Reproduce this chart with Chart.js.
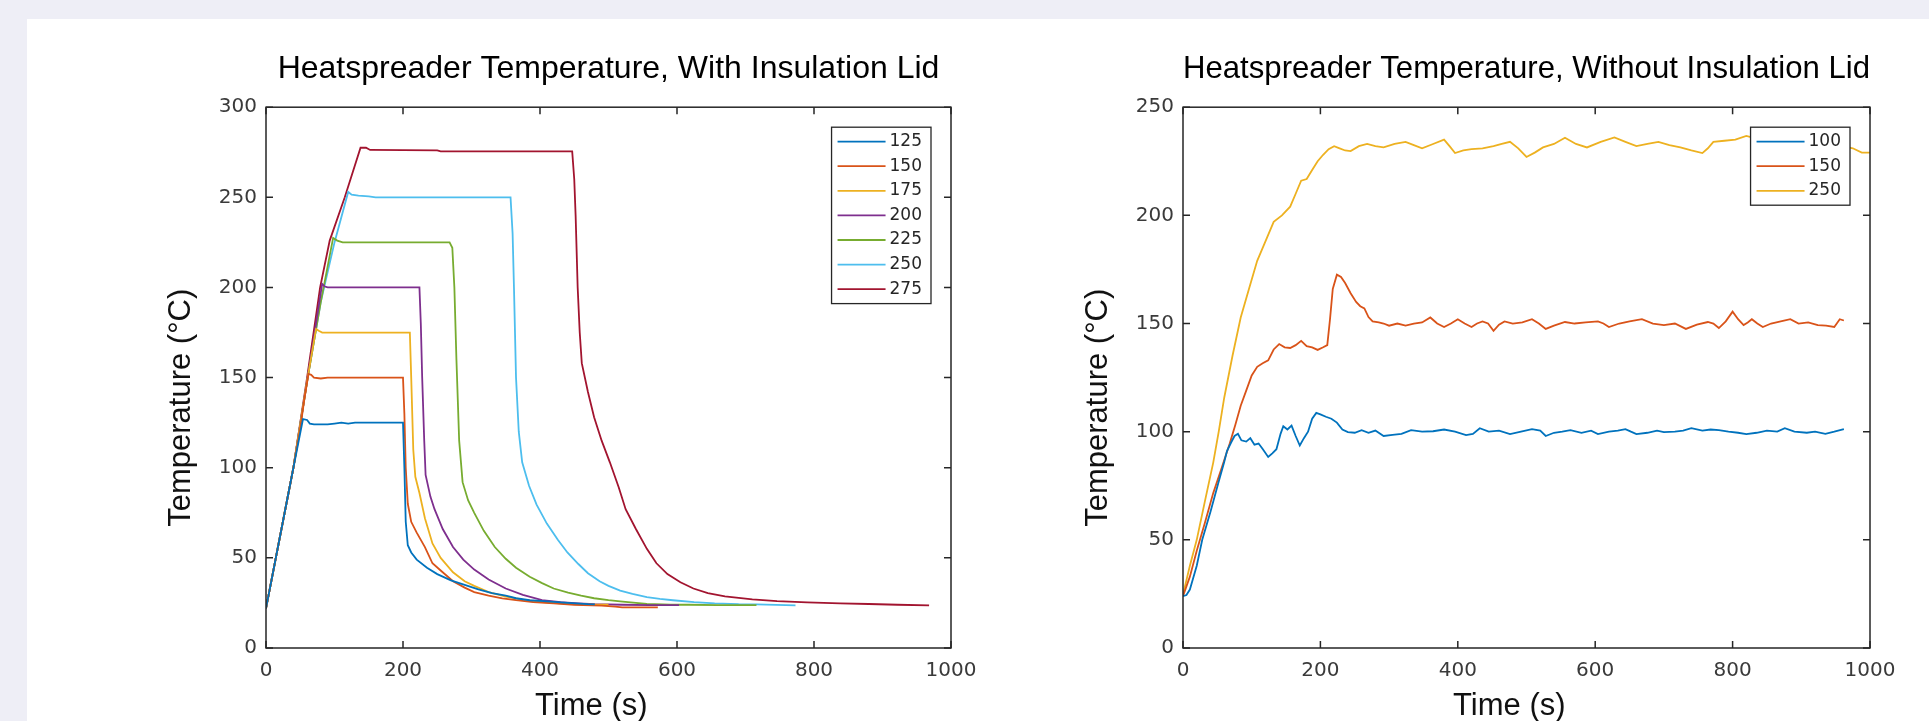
<!DOCTYPE html>
<html>
<head>
<meta charset="utf-8">
<title>Heatspreader Temperature</title>
<script src="https://cdn.jsdelivr.net/npm/chart.js@4.4.1/dist/chart.umd.min.js"></script>
<style>
    html, body { margin: 0; padding: 0; width: 1929px; height: 721px; overflow: hidden; background: #eeeef6; }
    #panel { position: absolute; left: 27px; top: 19px; right: 0; bottom: 0; background: #fff; }
    .plot { position: absolute; top: 19px; height: 720px; }
    #plotLid { left: 140px; width: 851px; }
    #plotNoLid { left: 1057px; width: 853px; }
</style>
</head>
<body>
<div id="panel"></div>
<div class="plot" id="plotLid"><canvas id="chartLid"></canvas></div>
<div class="plot" id="plotNoLid"><canvas id="chartNoLid"></canvas></div>
<script>
// --- data: [time (s), temperature (C)] ---
var lid125 = [[0,22],[20,61],[40,100],[54,127],[60,126.5],[64,124.5],[70,124],[90,124],[100,124.5],[110,125],[120,124.5],[130,125],[150,125],[200,125],
    [202,100],[204,70],[207,57],[212,53],[220,49],[235,44.5],[250,41],[270,37.5],[290,35],[310,32.5],[330,30.5],[350,29],[365,27.6],[385,26.5],[405,26],[440,25],[470,24.3],[480,24.2]];
var lid150 = [[0,22],[20,61],[40,100],[50,122],[56,138],[62,152],[66,151.5],[70,150],[80,149.5],[90,150],[110,150],[150,150],[200,150],
    [202,130],[204,100],[207,80],[212,70],[220,64],[232,56],[243,47],[255,43],[273,37],[290,33.5],[304,31],[325,29],[345,27.5],[365,26.5],[390,25.5],[420,24.8],[450,24],[490,23.5],[510,23],[520,22.5],[572,22.5]];
var lid175 = [[0,22],[20,61],[40,100],[60,148],[73,177],[77,176],[82,175],[100,175],[150,175],[210,175],
    [212,150],[215,110],[218,95],[224,86],[232,72],[243,58],[255,50],[273,42],[290,37],[304,34.5],[325,31],[350,28.5],[375,26.8],[403,25.4],[440,24.5],[470,24],[500,24]];
var lid200 = [[0,22],[20,61],[40,100],[60,148],[82,202],[86,200.5],[90,200],[120,200],[180,200],[224,200],
    [226,180],[228,150],[231,115],[233,96],[240,84],[246,77],[258,66],[273,56],[288,49],[304,43.5],[325,38],[350,33],[375,29.5],[403,26.5],[430,25.5],[456,24.8],[480,24.3],[520,24],[560,23.8],[603,23.8]];
var lid225 = [[0,22],[20,61],[40,100],[60,148],[80,192],[98,227.5],[104,226],[112,225],[150,225],[200,225],[268,225],
    [272,222],[275,200],[278,160],[282,115],[287,92],[295,82],[304,75],[318,65],[334,56],[350,49.5],[365,44.5],[385,39.5],[403,36],[420,33],[441,30.7],[460,29],[479,27.6],[500,26.5],[517,25.9],[540,25],[556,24.4],[590,24],[617,24],[660,23.8],[716,23.8]];
var lid250 = [[0,22],[20,61],[40,100],[60,148],[80,192],[100,225],[120,253],[125,251.5],[135,251],[150,250.5],[160,250],[200,250],[300,250],[357,250],
    [360,230],[362,200],[365,150],[369,120],[374,103],[384,90],[395,79.5],[410,69],[426,60],[440,53],[456,46.6],[470,41.5],[487,37],[500,34.5],[517,31.8],[535,30],[556,28.2],[575,27.2],[594,26.5],[625,25.5],[655,24.8],[690,24.3],[716,24.2],[773,23.7]];
var lid275 = [[0,22],[20,61],[40,100],[60,150],[79,200],[93,226],[115,250],[138,277.5],[146,277.5],[152,276.3],[200,276.2],[250,276],[255,275.5],[300,275.5],[400,275.5],[447,275.5],
    [450,260],[452,240],[455,200],[458,175],[461,158],[470,142],[479,128],[490,115],[502,103],[515,89],[525,77],[540,66],[556,55],[570,47],[586,41],[605,36.5],[624,33],[645,30.5],[670,28.6],[710,27],[746,26],[790,25.3],[838,24.8],[880,24.4],[922,24],[968,23.7]];

var noLid100 = [[0,24],[5,24.5],[10,27],[20,38],[28,50],[40,63],[52,77],[60,86],[64,91],[70,95],[75,98],[80,99],[85,96],[92,95.4],[98,97],[104,94],[110,94.5],[116,92],[124,88.3],[130,90],[136,91.9],[142,99],[146,102.5],[152,101],[158,102.8],[164,98],[170,93.6],[176,97],[182,100],[188,106],[194,108.7],[200,108],[208,106.9],[216,106],[224,104.2],[232,101],[240,99.8],
    [250,99.5],[260,100.7],[270,99.5],[280,100.5],[292,98],[305,98.5],[318,99],[332,100.7],[348,100],[364,100.2],[380,101],[396,100],[412,98.4],[422,99],[432,101.6],[445,100],[460,100.5],[476,98.9],[492,100],[508,101.2],[520,100.5],[528,98],[540,99.5],[552,100],[564,100.7],[580,99.5],[594,100.5],[604,98.9],[620,100],[633,100.5],[644,101.2],[652,100],[660,98.9],[676,99.5],[690,100.5],[700,99.8],
    [716,100],[728,100.5],[740,101.6],[756,100.5],[768,101],[780,100.7],[794,100],[808,99.5],[820,98.9],[835,99.5],[850,100.5],[865,100],[876,101.6],[890,100],[908,99.5],[920,100],[935,99],[948,100],[962,101.2]];
var noLid150 = [[0,24],[10,33],[20,45],[32,58],[44,71.6],[56,83],[68,94.5],[76,103],[84,112],[92,119],[100,126],[108,130],[116,131.6],[124,133],[132,138],[140,140.5],[148,139],[156,138.7],[164,140],[172,142],[180,139.5],[188,139],[196,137.8],[204,139],[210,140],[214,152],[218,166],[224,172.6],[230,171.5],[236,168.7],[244,164],[252,160],[258,158],[264,157],[270,153],[276,151],
    [285,150.5],[292,150],[300,149],[312,150],[324,149],[336,150],[348,150.5],[360,152.8],[370,150],[380,148.4],[390,150],[400,152],[410,150],[420,148.4],[428,150],[436,151],[444,150],[452,146.6],[460,149.5],[468,151],[480,150],[494,150.5],[508,152],[518,150],[528,147.5],[540,149],[556,150.7],[570,150],[586,150.5],[604,151],[612,150],[620,148.4],[635,150],[650,151],[668,152],[684,150],[700,149.3],[716,150],[732,147.5],[748,149.5],[764,150.7],[772,150],[780,147.9],[790,151],
    [800,155.5],[808,152],[816,149.3],[822,150.5],[828,152],[836,150],[844,148.4],[856,150],[870,151],[884,152],[896,150],[910,150.5],[924,149.3],[936,149],[948,148.4],[956,152],[962,151.4]];
var noLid250 = [[0,24.7],[10,38],[20,50],[32,68],[44,85.7],[52,100],[60,115.7],[72,135],[84,152.8],[96,166],[108,179],[120,188],[132,197],[144,200],[156,204],[164,210],[172,216],[180,216.8],[188,221],[196,225],[204,228],[212,230.6],[220,232],[228,231],[236,230],[244,229.7],[256,232],[268,233],[280,232],[292,231.4],[308,233],[324,234],[336,232.5],[348,231],[364,233],[380,235],[388,232],[396,228.8],[408,230],[420,230.6],[436,231],[452,232],[464,233],[476,234],[488,231],[500,227],[512,229],[524,231.4],
    [540,233],[556,235.9],[572,233],[588,231.4],[608,234],[628,236],[644,234],[660,232],[676,233],[692,234],[708,232.5],[724,231.4],[740,230],[756,228.8],[764,231],[772,234],[788,234.5],[804,235],[820,236.7],[840,235],[860,234.5],[880,235],[900,234],[924,234],[945,233],[960,232],[975,231],[988,229],[1000,229]];

var lidLabels = ['125', '150', '175', '200', '225', '250', '275'];
var noLidLabels = ['100', '150', '250'];
var xTicks = [0, 200, 400, 600, 800, 1000];

var colors = ['#0072BD', '#D95319', '#EDB120', '#7E2F8E', '#77AC30', '#4DBEEE', '#A2142F'];

var toXY = function (pairs) {
    return pairs.map(function (p) { return { x: p[0], y: p[1] }; });
};

// box round the axes with inward ticks on all four sides (matlab style)
var boxAxes = {
    id: 'boxAxes',
    afterDatasetsDraw: function (chart) {
        var ctx = chart.ctx, a = chart.chartArea;
        var sx = chart.scales.x, sy = chart.scales.y;
        ctx.save();
        ctx.strokeStyle = '#262626';
        ctx.lineWidth = 1.5;
        ctx.strokeRect(a.left, a.top, a.right - a.left, a.bottom - a.top);
        ctx.beginPath();
        sx.ticks.forEach(function (t) {
            var px = sx.getPixelForValue(t.value);
            ctx.moveTo(px, a.bottom); ctx.lineTo(px, a.bottom - 7);
            ctx.moveTo(px, a.top); ctx.lineTo(px, a.top + 7);
        });
        sy.ticks.forEach(function (t) {
            var py = sy.getPixelForValue(t.value);
            ctx.moveTo(a.left, py); ctx.lineTo(a.left + 7, py);
            ctx.moveTo(a.right, py); ctx.lineTo(a.right - 7, py);
        });
        ctx.stroke();
        ctx.restore();
    }
};

// legend box in the top right corner of the axes
var boxLegend = {
    id: 'boxLegend',
    afterDatasetsDraw: function (chart) {
        var ctx = chart.ctx, a = chart.chartArea;
        var sets = chart.data.datasets;
        ctx.save();
        ctx.font = '17px "DejaVu Sans"';
        var textW = 0;
        sets.forEach(function (ds) { textW = Math.max(textW, ctx.measureText(ds.label).width); });
        var w = 6 + 48 + 4 + textW + 9;
        var h = 14.4 * 2 + (sets.length - 1) * 24.6;
        var left = a.right - 20 - w, top = a.top + 20;
        ctx.fillStyle = '#fff';
        ctx.fillRect(left, top, w, h);
        ctx.strokeStyle = '#262626';
        ctx.lineWidth = 1.3;
        ctx.strokeRect(left, top, w, h);
        sets.forEach(function (ds, i) {
            var yy = top + 14.4 + i * 24.6;
            ctx.strokeStyle = ds.borderColor;
            ctx.lineWidth = 1.8;
            ctx.beginPath(); ctx.moveTo(left + 6, yy); ctx.lineTo(left + 54, yy); ctx.stroke();
            ctx.fillStyle = '#262626';
            ctx.textBaseline = 'middle';
            ctx.fillText(ds.label, left + 58, yy);
        });
        ctx.restore();
    }
};

var tickFont = { family: 'DejaVu Sans', size: 20 };
var labelFont = { family: 'Liberation Sans', size: 31, weight: 'normal' };
var titleFont = { family: 'Liberation Sans', size: 32, weight: 'normal' };

var makeOptions = function (title, yMax) {
    return {
        responsive: true,
        maintainAspectRatio: false,
        animation: false,
        layout: { padding: { left: 0, right: 40, top: 0, bottom: 0 } },
        elements: { point: { radius: 0 }, line: { borderWidth: 1.8, tension: 0 } },
        plugins: {
            legend: { display: false },
            tooltip: { enabled: false },
            title: { display: true, text: title, fullSize: false, color: '#000', font: titleFont, padding: { top: 31, bottom: 18.8 } }
        },
        scales: {
            x: {
                type: 'linear', min: 0, max: 1000,
                afterBuildTicks: function (s) { s.ticks = xTicks.map(function (v) { return { value: v }; }); },
                ticks: { padding: 11, color: '#3a3a3a', font: tickFont, callback: function (v) { return '' + v; } },
                grid: { display: false, drawTicks: false },
                border: { display: false },
                title: { display: true, text: 'Time (s)    ', color: '#111', font: labelFont, padding: { top: 0, bottom: 14 } },
                afterFit: function (s) { s.height = 91; }
            },
            y: {
                min: 0, max: yMax,
                ticks: { stepSize: 50, padding: 9, color: '#3a3a3a', font: tickFont, callback: function (v) { return '' + v; } },
                grid: { display: false, drawTicks: false },
                border: { display: false },
                title: { display: true, text: 'Temperature (°C)       ', color: '#111', font: labelFont, padding: { top: 23, bottom: 0 } },
                afterFit: function (s) { s.width = 126; }
            }
        }
    };
};

var lidSeries = [lid125, lid150, lid175, lid200, lid225, lid250, lid275];
new Chart(document.getElementById('chartLid'), {
    type: 'line',
    data: {
        datasets: lidSeries.map(function (s, i) {
            return { label: lidLabels[i], data: toXY(s), borderColor: colors[i], backgroundColor: colors[i], fill: false };
        })
    },
    options: makeOptions('Heatspreader Temperature, With Insulation Lid', 300),
    plugins: [boxAxes, boxLegend]
});

var noLidSeries = [noLid100, noLid150, noLid250];
new Chart(document.getElementById('chartNoLid'), {
    type: 'line',
    data: {
        datasets: noLidSeries.map(function (s, i) {
            return { label: noLidLabels[i], data: toXY(s), borderColor: colors[i], backgroundColor: colors[i], fill: false };
        })
    },
    options: makeOptions('Heatspreader Temperature, Without Insulation Lid', 250),
    plugins: [boxAxes, boxLegend]
});
</script>
</body>
</html>
